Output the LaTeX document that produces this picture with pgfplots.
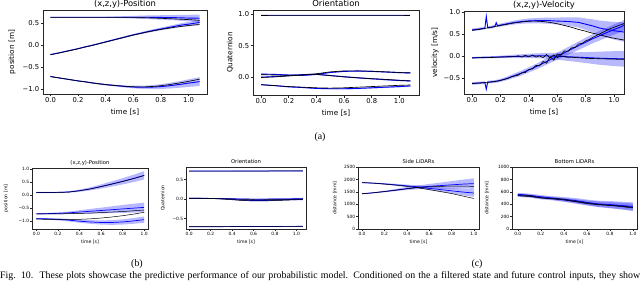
\documentclass[border=0pt]{standalone}
\usepackage{pgfplots}
\pgfplotsset{compat=1.18}
\usepackage{pgfplotstable}
\usepgfplotslibrary{fillbetween}
\usepackage{fontspec}
\setmainfont{Liberation Serif}
\newfontfamily\mpl{DejaVu Sans}

% ---------------- data ----------------
\pgfplotstableread{
t    am    as    ag    bm     bs    bg     cm     cs    cg
0    0.64  0.005 0.63  -0.215 0.010 -0.22  -0.72  0.010 -0.72
0.05 0.64  0.005 0.63  -0.185 0.010 -0.19  -0.745 0.010 -0.745
0.10 0.64  0.005 0.63  -0.150 0.010 -0.155 -0.77  0.010 -0.77
0.15 0.64  0.005 0.63  -0.115 0.010 -0.12  -0.795 0.010 -0.795
0.20 0.64  0.005 0.63  -0.080 0.012 -0.085 -0.82  0.012 -0.82
0.25 0.64  0.005 0.63  -0.040 0.012 -0.045 -0.84  0.012 -0.84
0.30 0.64  0.006 0.63  -0.005 0.013 -0.01  -0.865 0.014 -0.865
0.35 0.64  0.008 0.63  0.035  0.014 0.03   -0.885 0.016 -0.885
0.40 0.64  0.010 0.63  0.075  0.015 0.07   -0.905 0.017 -0.905
0.45 0.64  0.015 0.63  0.115  0.016 0.11   -0.92  0.019 -0.92
0.50 0.64  0.020 0.63  0.155  0.018 0.15   -0.935 0.020 -0.935
0.55 0.64  0.025 0.63  0.195  0.019 0.19   -0.95  0.025 -0.945
0.60 0.64  0.030 0.63  0.235  0.020 0.23   -0.96  0.030 -0.955
0.65 0.64  0.035 0.628 0.27   0.023 0.265  -0.965 0.035 -0.958
0.70 0.64  0.040 0.625 0.305  0.026 0.30   -0.965 0.040 -0.955
0.75 0.635 0.045 0.62  0.34   0.028 0.33   -0.96  0.047 -0.945
0.80 0.635 0.050 0.615 0.37   0.030 0.36   -0.95  0.055 -0.93
0.85 0.63  0.055 0.607 0.40   0.035 0.385  -0.935 0.062 -0.91
0.90 0.63  0.060 0.60  0.43   0.040 0.41   -0.915 0.070 -0.885
0.95 0.625 0.068 0.592 0.46   0.045 0.43   -0.895 0.078 -0.86
1.00 0.62  0.075 0.585 0.48   0.050 0.45   -0.87  0.087 -0.83
1.05 0.62  0.082 0.575 0.505  0.056 0.465  -0.85  0.095 -0.80
1.08 0.615 0.085 0.57  0.52   0.060 0.47   -0.835 0.100 -0.78
}\posA

\pgfplotstableread{
t    wm    wg    ws    am    ag    as    bm     bg     bs    cm     cg     cs
0    0.99  0.99  0.005 0.045 0.035 0.006 -0.005 -0.01  0.006 -0.125 -0.125 0.006
0.10 0.99  0.99  0.005 0.040 0.030 0.006 0.005  0.000  0.006 -0.14  -0.14  0.006
0.20 0.99  0.99  0.005 0.030 0.025 0.006 0.020  0.015  0.006 -0.16  -0.155 0.007
0.30 0.99  0.99  0.005 0.025 0.030 0.007 0.035  0.030  0.007 -0.17  -0.165 0.007
0.35 0.99  0.99  0.005 0.030 0.040 0.007 0.040  0.040  0.007 -0.178 -0.17  0.008
0.40 0.99  0.99  0.005 0.040 0.050 0.008 0.040  0.040  0.008 -0.185 -0.175 0.008
0.50 0.99  0.99  0.005 0.070 0.080 0.008 0.022  0.020  0.008 -0.19  -0.18  0.009
0.60 0.99  0.99  0.005 0.088 0.095 0.009 0.002  0.000  0.009 -0.19  -0.175 0.010
0.70 0.99  0.99  0.005 0.092 0.097 0.009 -0.015 -0.015 0.010 -0.185 -0.165 0.010
0.80 0.99  0.99  0.005 0.088 0.090 0.010 -0.030 -0.030 0.010 -0.175 -0.155 0.011
0.90 0.99  0.99  0.005 0.078 0.080 0.010 -0.045 -0.040 0.011 -0.165 -0.145 0.012
1.00 0.99  0.99  0.005 0.068 0.070 0.011 -0.058 -0.055 0.012 -0.155 -0.135 0.012
1.08 0.99  0.99  0.005 0.062 0.065 0.012 -0.065 -0.065 0.012 -0.145 -0.13  0.013
}\oriA

\pgfplotstableread{
t    am   as    bm     bs    cm    cs
0    0.59 0.030 -0.045 0.020 -0.63 0.030
0.05 0.61 0.030 -0.040 0.020 -0.62 0.030
0.09 0.63 0.030 -0.035 0.021 -0.61 0.031
0.10 0.90 0.060 -0.035 0.022 -0.76 0.060
0.11 0.64 0.031 -0.035 0.022 -0.60 0.031
0.15 0.66 0.032 -0.030 0.024 -0.59 0.032
0.16 0.67 0.032 -0.030 0.024 -0.585 0.032
0.17 0.75 0.040 -0.028 0.025 -0.58 0.033
0.18 0.68 0.033 -0.028 0.025 -0.575 0.033
0.20 0.70 0.035 -0.025 0.027 -0.56 0.035
0.25 0.73 0.040 -0.020 0.033 -0.51 0.040
0.30 0.76 0.045 -0.015 0.040 -0.45 0.050
0.35 0.78 0.050 -0.010 0.045 -0.39 0.055
0.40 0.795 0.055 -0.005 0.050 -0.32 0.060
0.45 0.80 0.060 0.000 0.055 -0.25 0.065
0.50 0.80 0.065 0.000 0.060 -0.17 0.070
0.55 0.80 0.072 -0.005 0.070 -0.09 0.075
0.60 0.79 0.080 -0.010 0.080 -0.01 0.080
0.65 0.785 0.090 -0.018 0.090 0.07 0.085
0.70 0.775 0.100 -0.025 0.100 0.15 0.090
0.75 0.76 0.115 -0.032 0.112 0.23 0.095
0.80 0.72 0.130 -0.040 0.125 0.31 0.100
0.85 0.68 0.150 -0.048 0.137 0.39 0.105
0.90 0.63 0.170 -0.055 0.150 0.46 0.110
0.95 0.60 0.185 -0.060 0.160 0.53 0.113
1.00 0.57 0.200 -0.065 0.170 0.60 0.116
1.05 0.55 0.215 -0.068 0.176 0.66 0.119
1.07 0.54 0.220 -0.070 0.180 0.70 0.120
}\velA

\pgfplotstableread{
t     ag    bg     cg
0     0.58  -0.050 -0.63
0.025 0.59  -0.048 -0.625
0.05  0.60  -0.046 -0.62
0.075 0.615 -0.044 -0.615
0.10  0.63  -0.042 -0.605
0.125 0.645 -0.040 -0.60
0.15  0.66  -0.037 -0.59
0.175 0.675 -0.034 -0.575
0.20  0.69  -0.030 -0.56
0.225 0.705 -0.028 -0.54
0.25  0.72  -0.025 -0.52
0.275 0.735 -0.020 -0.48
0.30  0.75  -0.020 -0.46
0.325 0.76  0.000  -0.44
0.35  0.77  -0.030 -0.39
0.375 0.78  0.010  -0.38
0.40  0.785 -0.025 -0.31
0.425 0.79  0.020  -0.30
0.45  0.79  -0.030 -0.22
0.475 0.785 0.000  -0.23
0.50  0.78  -0.040 -0.13
0.525 0.77  0.030  -0.17
0.55  0.76  -0.050 -0.02
0.575 0.745 0.020  -0.10
0.60  0.73  -0.040 0.04
0.625 0.71  0.000  0.02
0.65  0.69  -0.020 0.11
0.675 0.67  -0.035 0.10
0.70  0.65  -0.030 0.18
0.725 0.625 -0.040 0.19
0.75  0.60  -0.045 0.27
0.775 0.58  -0.050 0.28
0.80  0.56  -0.055 0.34
0.825 0.535 -0.060 0.37
0.85  0.515 -0.062 0.42
0.875 0.495 -0.065 0.46
0.90  0.475 -0.068 0.50
0.925 0.455 -0.070 0.54
0.95  0.435 -0.072 0.58
0.975 0.415 -0.074 0.62
1.00  0.40  -0.076 0.65
1.025 0.385 -0.078 0.68
1.05  0.37  -0.080 0.71
1.07  0.36  -0.080 0.735
}\velG

\pgfplotstableread{
t   am    as    ag    bm    bs    bg    cm    cs    cg
0   0.10  0.020 0.10  -0.72 0.030 -0.72 -0.90 0.030 -0.92
0.1 0.10  0.020 0.10  -0.71 0.030 -0.72 -0.91 0.030 -0.93
0.2 0.105 0.025 0.10  -0.70 0.040 -0.72 -0.93 0.040 -0.94
0.3 0.12  0.030 0.115 -0.68 0.050 -0.71 -0.96 0.050 -0.94
0.4 0.17  0.040 0.165 -0.65 0.070 -0.70 -1.00 0.060 -0.93
0.5 0.24  0.060 0.235 -0.62 0.090 -0.69 -1.03 0.070 -0.91
0.6 0.33  0.080 0.325 -0.59 0.110 -0.67 -1.05 0.080 -0.88
0.7 0.43  0.100 0.42  -0.56 0.130 -0.65 -1.05 0.090 -0.84
0.8 0.53  0.120 0.52  -0.53 0.150 -0.63 -1.03 0.100 -0.79
0.9 0.64  0.140 0.63  -0.50 0.170 -0.60 -0.99 0.110 -0.73
1.0 0.76  0.160 0.75  -0.47 0.180 -0.57 -0.94 0.120 -0.66
}\posB

\pgfplotstableread{
t    wm    wg    ws    am    ag    as    bm    bg    bs    cm     cg     cs
0    0.715 0.715 0.008 0.020 0.020 0.008 0.010 0.010 0.008 -0.71  -0.71  0.008
0.10 0.715 0.715 0.008 0.020 0.020 0.008 0.010 0.010 0.008 -0.71  -0.71  0.008
0.20 0.715 0.715 0.008 0.015 0.010 0.009 0.010 0.008 0.009 -0.71  -0.71  0.008
0.30 0.715 0.715 0.008 0.010 0.000 0.010 0.008 0.005 0.010 -0.71  -0.71  0.008
0.40 0.715 0.715 0.009 -0.010 -0.020 0.012 0.005 0.000 0.012 -0.708 -0.708 0.009
0.50 0.715 0.715 0.009 -0.030 -0.040 0.014 0.000 -0.010 0.014 -0.707 -0.707 0.009
0.60 0.716 0.716 0.009 -0.040 -0.050 0.016 -0.005 -0.020 0.016 -0.706 -0.706 0.009
0.70 0.717 0.717 0.010 -0.040 -0.050 0.018 -0.005 -0.020 0.018 -0.705 -0.705 0.010
0.80 0.718 0.718 0.010 -0.030 -0.040 0.020 0.000 -0.015 0.020 -0.704 -0.704 0.010
0.90 0.719 0.719 0.010 -0.020 -0.030 0.022 0.000 -0.010 0.022 -0.703 -0.703 0.010
1.00 0.720 0.720 0.011 -0.010 -0.020 0.024 0.005 -0.005 0.024 -0.702 -0.702 0.011
1.06 0.720 0.720 0.011 -0.010 -0.010 0.025 0.005 0.000 0.025 -0.70  -0.70  0.011
}\oriB

\pgfplotstableread{
t   am   as  ag   bm   bs  bg
0   1870 15  1870 1420 15  1420
0.1 1850 20  1850 1460 20  1460
0.2 1820 30  1810 1510 30  1510
0.3 1780 40  1770 1570 45  1560
0.4 1740 50  1720 1630 60  1620
0.5 1700 60  1660 1680 75  1670
0.6 1640 75  1590 1720 95  1700
0.7 1590 90  1510 1750 120 1720
0.8 1540 110 1430 1780 150 1730
0.9 1490 130 1330 1810 180 1730
1.0 1450 150 1230 1830 210 1720
}\sidetab

\pgfplotstableread{
t   am  as ag  bm  bs bg
0   560 25 550 540 22 535
0.1 545 25 540 530 24 525
0.2 520 28 505 505 26 500
0.3 500 30 495 490 28 485
0.4 480 35 480 470 32 470
0.5 460 40 450 445 36 440
0.6 430 45 420 420 40 410
0.7 405 50 395 400 45 390
0.8 395 55 385 385 50 380
0.9 380 60 370 370 55 360
1.0 365 65 350 350 60 340
}\bottab

% ---------------- styles ----------------
\definecolor{mplblue}{rgb}{0,0,1}
\pgfplotsset{
  every axis title shift=0pt,
  common/.style={scale only axis, anchor=north west, clip=true,
    axis line style={black!85}, tick pos=left, tick align=outside,
    xtick={0,0.2,0.4,0.6,0.8,1.0},
    xticklabels={0.0,0.2,0.4,0.6,0.8,1.0},
    xlabel={time [s]},
    title style={at={(axis description cs:0.5,1)}, anchor=base},
    xlabel style={at={(axis description cs:0.5,0)}, anchor=center},
  },
  topax/.style={common,
    axis line style={line width=0.5pt}, every tick/.style={black!85, line width=0.5pt},
    major tick length=2.5pt,
    tick label style={font=\mpl\fontsize{6.8}{7}\selectfont, inner sep=1.2pt},
    label style={font=\mpl\fontsize{7.3}{8}\selectfont},
    title style={font=\mpl\fontsize{8.4}{9}\selectfont, yshift=3.4pt},
    xlabel style={yshift=-18.3pt},
  },
  botax/.style={common,
    axis line style={line width=0.35pt}, every tick/.style={black!85, line width=0.35pt},
    major tick length=1.7pt,
    tick label style={font=\mpl\fontsize{4.4}{5}\selectfont, inner sep=0.9pt},
    label style={font=\mpl\fontsize{4.6}{5}\selectfont},
    title style={font=\mpl\fontsize{5.3}{6}\selectfont, yshift=3.2pt},
    xlabel style={yshift=-13pt},
  },
  ylab/.style={ylabel style={at={([xshift=-#1]axis description cs:0,0.5)}, anchor=center}},
  bandfill/.style={fill=mplblue, fill opacity=0.28, draw=none},
  meanT/.style={mplblue, line width=0.9pt},
  truthT/.style={black, line width=0.65pt},
  meanB/.style={mplblue, line width=0.7pt},
  truthB/.style={black, line width=0.5pt},
}

\newcommand{\band}[4]{% table, mean, sd, name
  \addplot[name path=#4u, draw=none, forget plot] table[x=t, y expr=\thisrow{#2}+\thisrow{#3}]{#1};
  \addplot[name path=#4l, draw=none, forget plot] table[x=t, y expr=\thisrow{#2}-\thisrow{#3}]{#1};
  \addplot[bandfill, forget plot] fill between[of=#4u and #4l];
}

\begin{document}
\begin{tikzpicture}

% ---------- (a) position ----------
\begin{axis}[topax, at={(43pt,-10pt)}, width=164pt, height=84pt,
  xmin=-0.054, xmax=1.134, ymin=-1.12, ymax=0.805,
  ytick={-1,-0.5,0,0.5}, yticklabels={−1.0,−0.5,0.0,0.5},
  ylabel={position [m]}, ylab=31pt,
  title={(x,z,y)-Position}]
  \band{\posA}{am}{as}{A}
  \band{\posA}{bm}{bs}{B}
  \band{\posA}{cm}{cs}{C}
  \addplot[meanT] table[x=t,y=am]{\posA};
  \addplot[meanT] table[x=t,y=bm]{\posA};
  \addplot[meanT] table[x=t,y=cm]{\posA};
  \addplot[truthT] table[x=t,y=ag]{\posA};
  \addplot[truthT] table[x=t,y=bg]{\posA};
  \addplot[truthT] table[x=t,y=cg]{\posA};
\end{axis}

% ---------- (a) orientation ----------
\begin{axis}[topax, at={(253pt,-10pt)}, width=166pt, height=85pt,
  xmin=-0.058, xmax=1.142, ymin=-0.29, ymax=1.07,
  ytick={0,0.5,1}, yticklabels={0.0,0.5,1.0},
  ylabel={Quaternion}, ylab=23pt,
  title={Orientation}]
  \band{\oriA}{wm}{ws}{W}
  \band{\oriA}{am}{as}{A}
  \band{\oriA}{bm}{bs}{B}
  \band{\oriA}{cm}{cs}{C}
  \addplot[meanT] table[x=t,y=wm]{\oriA};
  \addplot[meanT] table[x=t,y=am]{\oriA};
  \addplot[meanT] table[x=t,y=bm]{\oriA};
  \addplot[meanT] table[x=t,y=cm]{\oriA};
  \addplot[truthT] table[x=t,y=wg]{\oriA};
  \addplot[truthT] table[x=t,y=ag]{\oriA};
  \addplot[truthT] table[x=t,y=bg]{\oriA};
  \addplot[truthT] table[x=t,y=cg]{\oriA};
\end{axis}

% ---------- (a) velocity ----------
\begin{axis}[topax, at={(464pt,-11pt)}, width=160pt, height=83pt,
  xmin=-0.057, xmax=1.07, ymin=-0.87, ymax=1.02,
  ytick={-0.5,0,0.5,1}, yticklabels={−0.5,0.0,0.5,1.0},
  ylabel={velocity [m/s]}, ylab=29pt,
  title={(x,z,y)-Velocity}]
  \band{\velA}{am}{as}{A}
  \band{\velA}{bm}{bs}{B}
  \band{\velA}{cm}{cs}{C}
  \addplot[meanT] table[x=t,y=am]{\velA};
  \addplot[meanT] table[x=t,y=bm]{\velA};
  \addplot[meanT] table[x=t,y=cm]{\velA};
  \addplot[truthT] table[x=t,y=ag]{\velG};
  \addplot[truthT] table[x=t,y=bg]{\velG};
  \addplot[truthT] table[x=t,y=cg]{\velG};
\end{axis}

% ---------- (b) position ----------
\begin{axis}[botax, at={(32pt,-168pt)}, width=116pt, height=61pt,
  xmin=-0.04, xmax=1.035, ymin=-1.30, ymax=1.04,
  ytick={-1,-0.5,0,0.5,1}, yticklabels={−1.0,−0.5,0.0,0.5,1.0},
  ylabel={position [m]}, ylab=26pt,
  title={(x,z,y)-Position}]
  \band{\posB}{am}{as}{A}
  \band{\posB}{bm}{bs}{B}
  \band{\posB}{cm}{cs}{C}
  \addplot[meanB] table[x=t,y=am]{\posB};
  \addplot[meanB] table[x=t,y=bm]{\posB};
  \addplot[meanB] table[x=t,y=cm]{\posB};
  \addplot[truthB] table[x=t,y=ag]{\posB};
  \addplot[truthB] table[x=t,y=bg]{\posB};
  \addplot[truthB] table[x=t,y=cg]{\posB};
\end{axis}

% ---------- (b) orientation ----------
\begin{axis}[botax, at={(186pt,-167pt)}, width=120pt, height=62pt,
  xmin=-0.03, xmax=1.09, ymin=-0.77, ymax=0.82,
  ytick={-0.5,0,0.5}, yticklabels={−0.5,0.0,0.5},
  ylabel={Quaternion}, ylab=23pt,
  title={Orientation}]
  \band{\oriB}{wm}{ws}{W}
  \band{\oriB}{am}{as}{A}
  \band{\oriB}{bm}{bs}{B}
  \band{\oriB}{cm}{cs}{C}
  \addplot[meanB] table[x=t,y=wm]{\oriB};
  \addplot[meanB] table[x=t,y=am]{\oriB};
  \addplot[meanB] table[x=t,y=bm]{\oriB};
  \addplot[meanB] table[x=t,y=cm]{\oriB};
  \addplot[truthB] table[x=t,y=wg]{\oriB};
  \addplot[truthB] table[x=t,y=ag]{\oriB};
  \addplot[truthB] table[x=t,y=bg]{\oriB};
  \addplot[truthB] table[x=t,y=cg]{\oriB};
\end{axis}

% ---------- (c) side lidars ----------
\begin{axis}[botax, at={(358pt,-167pt)}, width=121pt, height=62pt,
  xmin=-0.036, xmax=1.045, ymin=0, ymax=2500,
  ytick={0,500,1000,1500,2000,2500}, yticklabels={0,500,1000,1500,2000,2500},
  ylabel={distance [mm]}, ylab=23pt,
  title={Side LiDARs}]
  \band{\sidetab}{am}{as}{A}
  \band{\sidetab}{bm}{bs}{B}
  \addplot[meanB] table[x=t,y=am]{\sidetab};
  \addplot[meanB] table[x=t,y=bm]{\sidetab};
  \addplot[truthB] table[x=t,y=ag]{\sidetab};
  \addplot[truthB] table[x=t,y=bg]{\sidetab};
\end{axis}

% ---------- (c) bottom lidars ----------
\begin{axis}[botax, at={(512pt,-167pt)}, width=125pt, height=62pt,
  xmin=-0.05, xmax=1.036, ymin=0, ymax=1000,
  ytick={0,200,400,600,800,1000}, yticklabels={0,200,400,600,800,1000},
  ylabel={distance [mm]}, ylab=25pt,
  title={Bottom LiDARs}]
  \band{\bottab}{am}{as}{A}
  \band{\bottab}{bm}{bs}{B}
  \addplot[meanB] table[x=t,y=am]{\bottab};
  \addplot[meanB] table[x=t,y=bm]{\bottab};
  \addplot[truthB] table[x=t,y=ag]{\bottab};
  \addplot[truthB] table[x=t,y=bg]{\bottab};
\end{axis}

% ---------- captions ----------
\node[font=\fontsize{9.9}{11}\selectfont, inner sep=0pt] at (320pt,-137pt) {(a)};
\node[font=\fontsize{9.9}{11}\selectfont, inner sep=0pt] at (137pt,-264pt) {(b)};
\node[font=\fontsize{9.9}{11}\selectfont, inner sep=0pt] at (477pt,-264pt) {(c)};
\node[anchor=base west, inner sep=0pt, font=\fontsize{9.9}{11}\selectfont] at (0pt,-278.5pt)
  {\makebox[640pt][s]{Fig. 10.\ \ These plots showcase the predictive performance of our probabilistic model. Conditioned on the a filtered state and future control inputs, they show}};

\pgfresetboundingbox
\useasboundingbox (0pt,0pt) rectangle (640pt,-281pt);
\end{tikzpicture}
\end{document}
